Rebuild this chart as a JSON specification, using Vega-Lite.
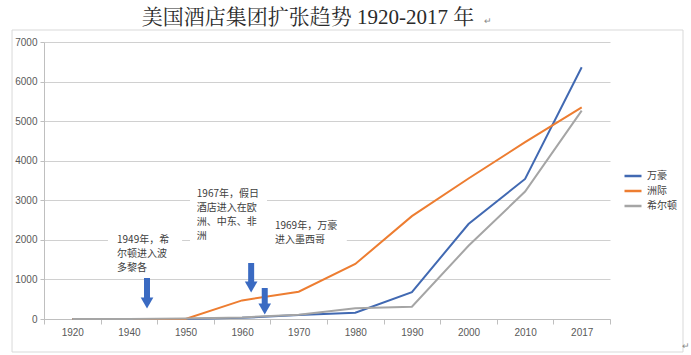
{
  "$schema": "https://vega.github.io/schema/vega-lite/v6.json",
  "width": 566,
  "height": 277,
  "autosize": {"type": "none"},
  "padding": {"left": 44, "top": 42, "right": 81, "bottom": 36},
  "background": "white",
  "title": {
    "text": "美国酒店集团扩张趋势 1920-2017 年",
    "font": "Liberation Serif, Noto Serif CJK SC, Noto Sans CJK SC",
    "fontSize": 21,
    "fontWeight": "normal",
    "color": "#2a2a2a",
    "anchor": "middle",
    "offset": -11,
    "dx": -19
  },
  "config": {
    "view": {"stroke": null},
    "font": "Liberation Sans, Noto Sans CJK SC",
    "axis": {
      "labelFont": "Liberation Sans, Noto Sans CJK SC",
      "labelFontSize": 10,
      "labelColor": "#595959",
      "domainColor": "#bfbfbf",
      "tickColor": "#bfbfbf",
      "gridColor": "#d0d0d0"
    },
    "legend": {
      "labelFont": "Noto Sans CJK SC",
      "labelFontSize": 10,
      "labelColor": "#404040"
    }
  },
  "datasets": {
    "series": [
      {"year": "1920", "brand": "万豪", "value": 0},
      {"year": "1940", "brand": "万豪", "value": 0},
      {"year": "1950", "brand": "万豪", "value": 0},
      {"year": "1960", "brand": "万豪", "value": 30},
      {"year": "1970", "brand": "万豪", "value": 100},
      {"year": "1980", "brand": "万豪", "value": 160},
      {"year": "1990", "brand": "万豪", "value": 680},
      {"year": "2000", "brand": "万豪", "value": 2400},
      {"year": "2010", "brand": "万豪", "value": 3540},
      {"year": "2017", "brand": "万豪", "value": 6360},
      {"year": "1920", "brand": "洲际", "value": 0},
      {"year": "1940", "brand": "洲际", "value": 0},
      {"year": "1950", "brand": "洲际", "value": 0},
      {"year": "1960", "brand": "洲际", "value": 470},
      {"year": "1970", "brand": "洲际", "value": 690},
      {"year": "1980", "brand": "洲际", "value": 1390},
      {"year": "1990", "brand": "洲际", "value": 2600},
      {"year": "2000", "brand": "洲际", "value": 3550},
      {"year": "2010", "brand": "洲际", "value": 4470},
      {"year": "2017", "brand": "洲际", "value": 5350},
      {"year": "1920", "brand": "希尔顿", "value": 0},
      {"year": "1940", "brand": "希尔顿", "value": 0},
      {"year": "1950", "brand": "希尔顿", "value": 10},
      {"year": "1960", "brand": "希尔顿", "value": 40},
      {"year": "1970", "brand": "希尔顿", "value": 110},
      {"year": "1980", "brand": "希尔顿", "value": 270},
      {"year": "1990", "brand": "希尔顿", "value": 310},
      {"year": "2000", "brand": "希尔顿", "value": 1850},
      {"year": "2010", "brand": "希尔顿", "value": 3220},
      {"year": "2017", "brand": "希尔顿", "value": 5265}
    ],
    "frame": [
      {"x1": -0.565, "x2": 11.29, "y1": 7303, "y2": -834}
    ],
    "boxes": [
      {"x1": 1.13, "x2": 2.44, "y1": 2249, "y2": 1061},
      {"x1": 2.58, "x2": 3.94, "y1": 3361, "y2": 1819},
      {"x1": 3.90, "x2": 5.35, "y1": 2628, "y2": 1744}
    ],
    "notes": [
      {"ax": 1.29, "ay": 2123, "label": "1949年，希\n尔顿进入波\n多黎各"},
      {"ax": 2.70, "ay": 3273, "label": "1967年，假日\n酒店进入在欧\n洲、中东、非\n洲"},
      {"ax": 4.08, "ay": 2484, "label": "1969年，万豪\n进入墨西哥"}
    ],
    "arrows": [
      {"ax": 1.82, "top": 1036, "bottom": 480, "head": 404},
      {"ax": 3.66, "top": 1415, "bottom": 885, "head": 809},
      {"ax": 3.90, "top": 783, "bottom": 329, "head": 253}
    ],
    "marks": [
      {"ax": 7.84, "ay": 7530, "label": "↵"},
      {"ax": 11.34, "ay": -682, "label": "↵"}
    ]
  },
  "layer": [
    {
      "data": {"name": "series"},
      "mark": {"type": "line", "strokeWidth": 2},
      "encoding": {
        "x": {
          "field": "year", "type": "ordinal",
          "sort": ["1920", "1940", "1950", "1960", "1970", "1980", "1990", "2000", "2010", "2017"],
          "scale": {"type": "band", "paddingInner": 0, "paddingOuter": 0},
          "axis": {"labelAngle": 0, "tickBand": "extent", "tickSize": 5, "labelPadding": 3, "domainColor": "#bfbfbf", "title": null}
        },
        "y": {
          "field": "value", "type": "quantitative", "title": null,
          "scale": {"domain": [0, 7000], "nice": false},
          "axis": {"values": [0, 1000, 2000, 3000, 4000, 5000, 6000, 7000], "format": "d", "tickSize": 4, "labelPadding": 3, "title": null, "grid": true}
        },
        "color": {
          "field": "brand", "type": "nominal",
          "scale": {"domain": ["万豪", "洲际", "希尔顿"], "range": ["#4169B2", "#ED7D31", "#A5A5A5"]},
          "legend": {
            "title": null, "orient": "none", "legendX": 579, "legendY": 124,
            "symbolType": "stroke", "symbolSize": 289, "symbolStrokeWidth": 2.5,
            "labelOffset": 4, "rowPadding": -3, "padding": 0
          }
        }
      }
    },
    {
      "data": {"name": "frame"},
      "mark": {"type": "rect", "fill": null, "stroke": "#d9d9d9", "strokeWidth": 1},
      "encoding": {
        "x": {"field": "x1", "type": "quantitative", "scale": {"domain": [0, 10], "nice": false, "zero": false}, "axis": null},
        "x2": {"field": "x2"},
        "y": {"field": "y1", "type": "quantitative", "title": null, "scale": {"domain": [0, 7000], "nice": false},
          "axis": {"values": [0, 1000, 2000, 3000, 4000, 5000, 6000, 7000], "format": "d", "tickSize": 4, "labelPadding": 3, "title": null, "grid": true}},
        "y2": {"field": "y2"}
      }
    },
    {
      "data": {"name": "boxes"},
      "mark": {"type": "rect", "fill": "white", "stroke": null},
      "encoding": {
        "x": {"field": "x1", "type": "quantitative", "scale": {"domain": [0, 10], "nice": false, "zero": false}, "axis": null},
        "x2": {"field": "x2"},
        "y": {"field": "y1", "type": "quantitative", "title": null, "scale": {"domain": [0, 7000], "nice": false},
          "axis": {"values": [0, 1000, 2000, 3000, 4000, 5000, 6000, 7000], "format": "d", "tickSize": 4, "labelPadding": 3, "title": null, "grid": true}},
        "y2": {"field": "y2"}
      }
    },
    {
      "data": {"name": "notes"},
      "mark": {"type": "text", "align": "left", "baseline": "top", "lineBreak": "\n", "lineHeight": 14, "fontSize": 10, "font": "Noto Sans CJK SC", "color": "#404040"},
      "encoding": {
        "x": {"field": "ax", "type": "quantitative", "scale": {"domain": [0, 10], "nice": false, "zero": false}, "axis": null},
        "y": {"field": "ay", "type": "quantitative", "title": null, "scale": {"domain": [0, 7000], "nice": false},
          "axis": {"values": [0, 1000, 2000, 3000, 4000, 5000, 6000, 7000], "format": "d", "tickSize": 4, "labelPadding": 3, "title": null, "grid": true}},
        "text": {"field": "label"}
      }
    },
    {
      "data": {"name": "arrows"},
      "mark": {"type": "rule", "strokeWidth": 6, "color": "#3A6AC2"},
      "encoding": {
        "x": {"field": "ax", "type": "quantitative", "scale": {"domain": [0, 10], "nice": false, "zero": false}, "axis": null},
        "y": {"field": "top", "type": "quantitative", "title": null, "scale": {"domain": [0, 7000], "nice": false},
          "axis": {"values": [0, 1000, 2000, 3000, 4000, 5000, 6000, 7000], "format": "d", "tickSize": 4, "labelPadding": 3, "title": null, "grid": true}},
        "y2": {"field": "bottom"}
      }
    },
    {
      "data": {"name": "arrows"},
      "mark": {"type": "point", "shape": "triangle-down", "filled": true, "size": 160, "opacity": 1, "color": "#3A6AC2"},
      "encoding": {
        "x": {"field": "ax", "type": "quantitative", "scale": {"domain": [0, 10], "nice": false, "zero": false}, "axis": null},
        "y": {"field": "head", "type": "quantitative", "title": null, "scale": {"domain": [0, 7000], "nice": false},
          "axis": {"values": [0, 1000, 2000, 3000, 4000, 5000, 6000, 7000], "format": "d", "tickSize": 4, "labelPadding": 3, "title": null, "grid": true}}
      }
    },
    {
      "data": {"name": "marks"},
      "mark": {"type": "text", "align": "center", "baseline": "middle", "fontSize": 9, "color": "#888888"},
      "encoding": {
        "x": {"field": "ax", "type": "quantitative", "scale": {"domain": [0, 10], "nice": false, "zero": false}, "axis": null},
        "y": {"field": "ay", "type": "quantitative", "title": null, "scale": {"domain": [0, 7000], "nice": false},
          "axis": {"values": [0, 1000, 2000, 3000, 4000, 5000, 6000, 7000], "format": "d", "tickSize": 4, "labelPadding": 3, "title": null, "grid": true}},
        "text": {"field": "label"}
      }
    }
  ],
  "resolve": {"scale": {"x": "independent"}}
}
